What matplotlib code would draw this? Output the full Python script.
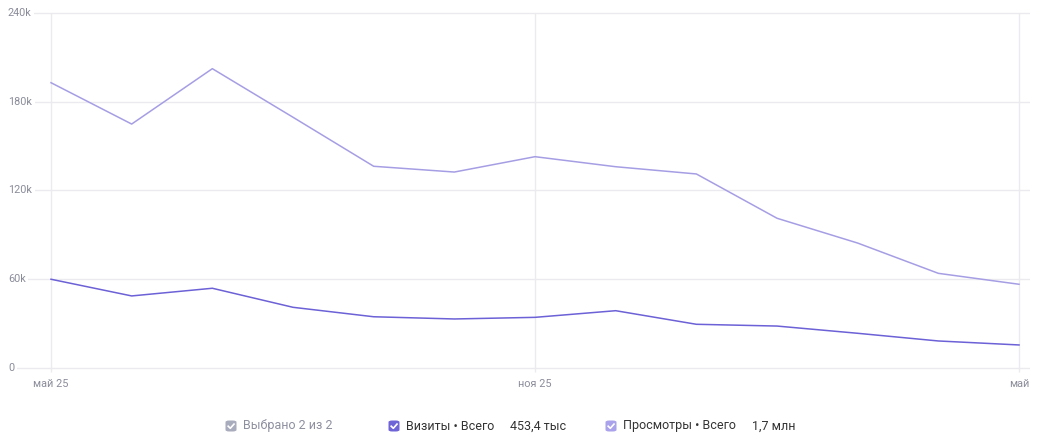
import numpy as np
import matplotlib
matplotlib.use('Agg')
import matplotlib.pyplot as plt
from matplotlib.patches import FancyBboxPatch

plt.rcParams['font.family'] = ['Roboto', 'DejaVu Sans']

# monthly data, май 25 .. май 26
months = list(range(13))
visits = [59.9, 48.6, 53.8, 40.9, 34.5, 33.0, 34.1, 38.6, 29.4, 28.2, 23.3, 18.1, 15.4]
pageviews = [193.0, 165.0, 202.5, 169.6, 136.4, 132.5, 142.9, 136.1, 131.2, 101.2, 84.4, 63.9, 56.5]
visits = [v * 1000 for v in visits]
pageviews = [v * 1000 for v in pageviews]

xtick_pos = [0, 6, 12]
xtick_labels = ['май 25', 'ноя 25', 'май']
ytick_pos = [0, 60000, 120000, 180000, 240000]
ytick_labels = ['0', '60k', '120k', '180k', '240k']

legend_items = [
    ('Выбрано 2 из 2', '', '#a9acbd', '#8e909f'),
    ('Визиты • Всего', '453,4 тыс', '#6f63d8', '#333333'),
    ('Просмотры • Всего', '1,7 млн', '#aaa2ea', '#333333'),
]

c_visits = '#6c61d6'
c_views = '#a69ee4'
c_grid = '#ebebef'
c_text = '#8a8c9a'

W, H = 1047, 442
fig = plt.figure(figsize=(W / 100, H / 100), dpi=100)

# axes pixel frame
px_left, px_right, px_top, px_bottom = 8, 1030, 10, 375
ax = fig.add_axes([px_left / W, (H - px_bottom) / H,
                   (px_right - px_left) / W, (px_bottom - px_top) / H])

ppx = 80.67  # pixels per month
x0 = 51
ax.set_xlim((px_left - x0) / ppx, (px_right - x0) / ppx)
ppy = 354.4 / 240000
y0 = 367.7
ax.set_ylim(-(px_bottom - y0) / ppy, 240000 + (13.3 - px_top) / ppy)

for s in ax.spines.values():
    s.set_visible(False)
ax.set_xticks([])
ax.set_yticks([])

xl = ax.get_xlim()
for y in ytick_pos:
    ax.plot(xl, [y, y], color=c_grid, lw=1, zorder=1)
ax.vlines(xtick_pos, -3000, 240000, color=c_grid, lw=1, zorder=1)

for y, lab in zip(ytick_pos, ytick_labels):
    ax.text(xl[0], y, lab, ha='left', va='center', fontsize=7.8, color=c_text,
            bbox=dict(boxstyle='square,pad=0.25', fc='white', ec='none'), zorder=2)

ax.plot(months, pageviews, color=c_views, lw=1.1, zorder=3)
ax.plot(months, visits, color=c_visits, lw=1.1, zorder=4)

for x, lab in zip(xtick_pos, xtick_labels):
    ax.text(x, -(384 - y0) / ppy, lab, ha='center', va='center', fontsize=7.8,
            color=c_text)

# legend row
legend_x = [231, 394, 611]
value_x = [None, 510, 752]
ly = 426
for (lab, val, box_c, txt_c), lx, vx in zip(legend_items, legend_x, value_x):
    size = 11
    box = FancyBboxPatch(((lx - size / 2) / W, (H - ly - size / 2) / H),
                         size / W, size / H,
                         boxstyle='round,pad=0,rounding_size=0.0035',
                         transform=fig.transFigure, fc=box_c, ec='none')
    fig.patches.append(box)
    cx = np.array([lx - 2.8, lx - 0.7, lx + 3.0])
    cy = np.array([ly + 0.2, ly + 2.3, ly - 1.9])
    fig.add_artist(plt.Line2D(cx / W, (H - cy) / H, color='white', lw=1.2,
                              transform=fig.transFigure))
    fig.text((lx + 12) / W, (H - ly) / H, lab, ha='left', va='center',
             fontsize=9, color=txt_c)
    if val:
        fig.text(vx / W, (H - ly) / H, val, ha='left', va='center',
                 fontsize=9, color=txt_c)

fig.savefig('out.png', dpi=100, facecolor='white')
